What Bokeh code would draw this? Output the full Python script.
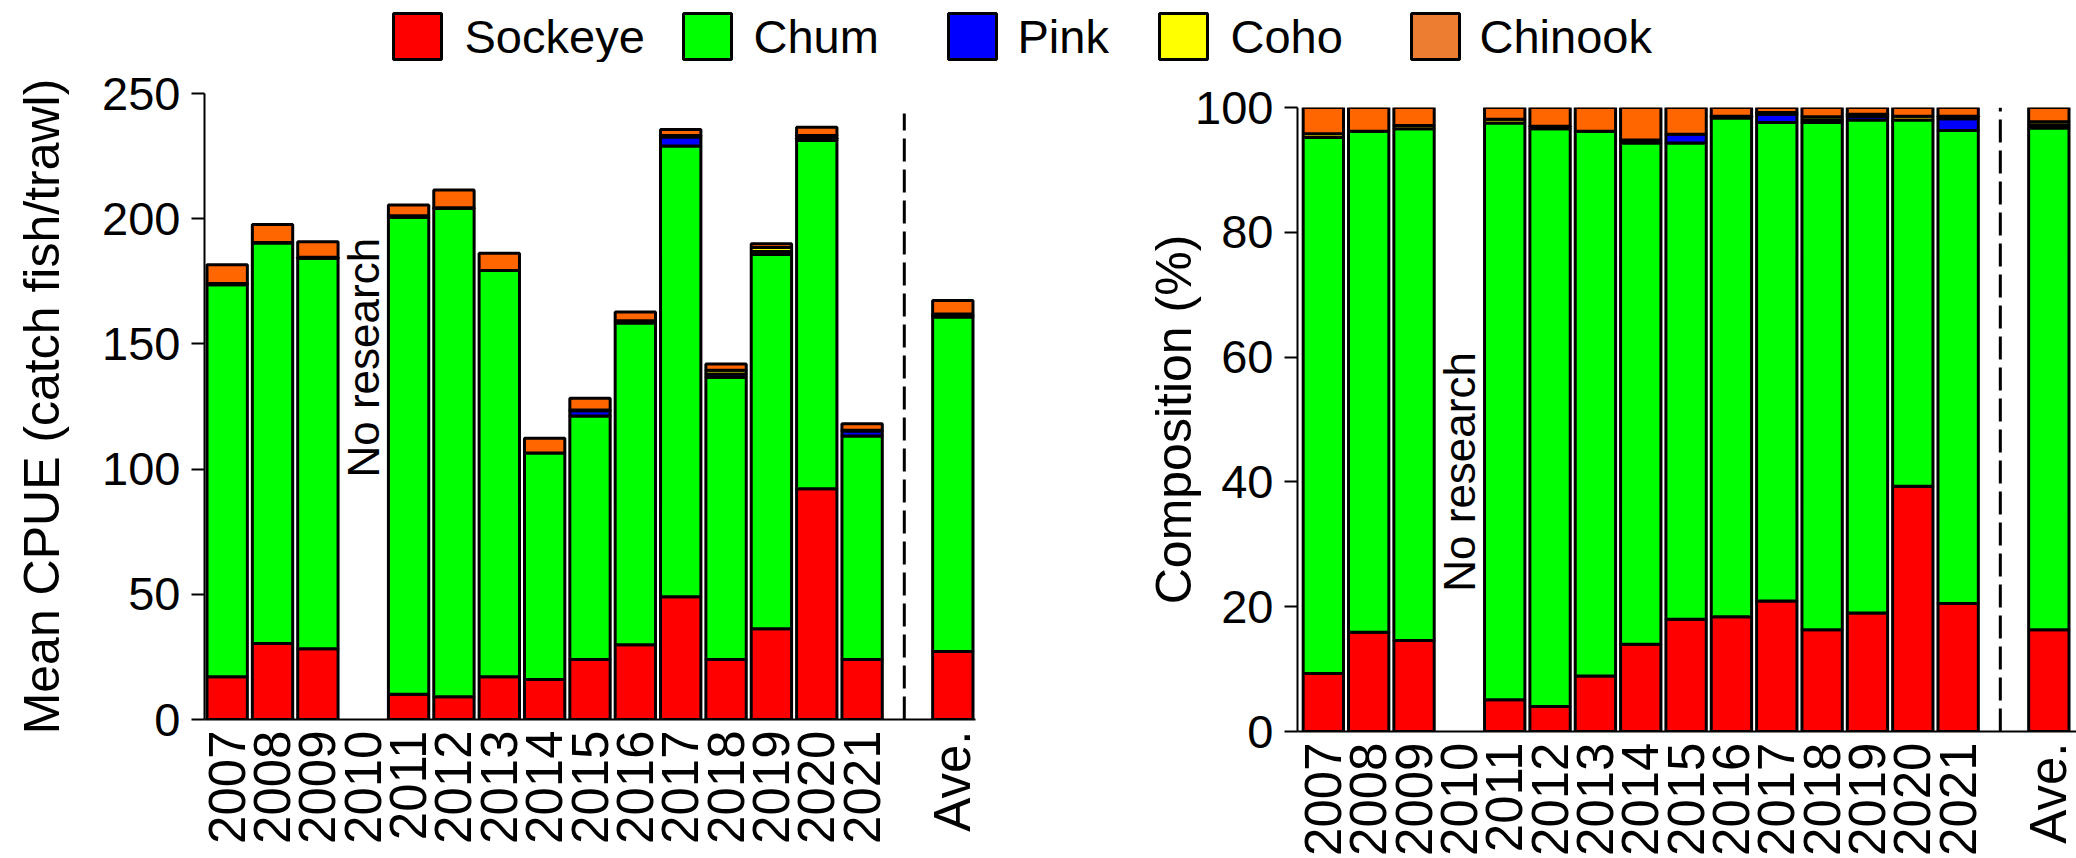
import numpy as np
from bokeh.plotting import figure
from bokeh.models import Range1d, FixedTicker
from bokeh.layouts import column, row
from bokeh.embed import file_html
from bokeh.resources import INLINE
from bokeh.core.properties import value

# ---------------- data ----------------
years = ["2007", "2008", "2009", "2010", "2011", "2012", "2013", "2014",
         "2015", "2016", "2017", "2018", "2019", "2020", "2021"]
ave_label = "Ave."
species = ["Sockeye", "Chum", "Pink", "Coho", "Chinook"]
no_research_year = "2010"

# Mean CPUE (catch fish/trawl); 15 years then the average
cpue_sockeye = [17.1, 30.4, 28.3, 0, 10.1, 9.1, 17.1, 16.0, 24.0, 29.9, 49.0, 24.0, 36.2, 92.2, 24.0, 27.2]
cpue_chum = [156.5, 159.9, 155.9, 0, 190.5, 195.1, 162.2, 90.4, 97.2, 128.4, 180.0, 112.7, 149.5, 139.0, 89.2, 133.5]
cpue_pink = [0, 0, 0, 0, 0, 0, 0, 0, 2.1, 0, 3.6, 1.3, 1.2, 0.9, 2.0, 0.6]
cpue_coho = [0.5, 0.2, 0.4, 0, 0.6, 0.2, 0, 0, 0.3, 0.9, 0.6, 1.5, 1.6, 1.1, 0.3, 0.6]
cpue_chinook = [7.5, 7.2, 6.2, 0, 4.3, 7.1, 6.9, 5.9, 4.7, 3.5, 2.4, 2.5, 1.5, 3.3, 2.6, 5.4]

# Composition (%)
comp_sockeye = [9.3, 15.9, 14.6, 0, 5.1, 4.0, 8.9, 14.0, 18.0, 18.4, 20.9, 16.3, 19.0, 39.3, 20.5, 16.3]
comp_chum = [85.9, 80.3, 82.0, 0, 92.4, 92.6, 87.3, 80.3, 76.3, 79.9, 76.7, 81.3, 79.0, 58.7, 75.8, 80.4]
comp_pink = [0, 0, 0, 0, 0, 0, 0, 0, 1.4, 0, 1.3, 0.4, 0.6, 0, 1.9, 0.5]
comp_coho = [0.6, 0, 0.5, 0, 0.6, 0.4, 0, 0.5, 0, 0.3, 0.3, 0.5, 0.3, 0.6, 0.4, 0.5]
comp_chinook = [4.2, 3.8, 2.9, 0, 1.9, 3.0, 3.8, 5.2, 4.3, 1.4, 0.8, 1.5, 1.1, 1.4, 1.4, 2.3]

cpue_ticks = [0, 50, 100, 150, 200, 250]
comp_ticks = [0, 20, 40, 60, 80, 100]

# ---------------- styles ----------------
bar_colors = ["#FF0000", "#00FF00", "#0000FF", "#FFFF00", "#FF6600"]
legend_colors = ["#FF0000", "#00FF00", "#0000FF", "#FFFF00", "#ED7D31"]
FONT = "Liberation Sans"
FS = "47px"
FS_X = "51px"
FS_LAB = "50px"
FS_NOTE = "44px"

LEG_H = 62
PANEL_H = 858 - LEG_H

labels = years + [ave_label]
xpos = list(range(len(years))) + [len(years) + 1]
sep_x = len(years) - 0.07


def make_panel(series, y_end, ylab, ticks, width, height, mbl, mbr, mbt, mbb,
               x_start, x_end, sep_top, note_y, lab_standoff):
    p = figure(width=width, height=height,
               x_range=Range1d(x_start, x_end), y_range=Range1d(0, y_end),
               output_backend="svg", toolbar_location=None,
               min_border_left=mbl, min_border_right=mbr,
               min_border_top=mbt, min_border_bottom=mbb)
    try:
        p.frame_align = False
    except Exception:
        pass
    p.outline_line_color = None
    p.xgrid.grid_line_color = None
    p.ygrid.grid_line_color = None
    p.background_fill_color = "white"
    p.border_fill_color = "white"

    bottoms = np.zeros(len(labels))
    for k, vals in enumerate(series):
        vals = np.array(vals, dtype=float)
        keep = vals > 0
        xs = [xpos[i] for i in range(len(labels)) if keep[i]]
        b = bottoms[keep]
        t = (bottoms + vals)[keep]
        p.vbar(x=xs, bottom=b, top=t, width=0.89,
               fill_color=bar_colors[k], line_color="black", line_width=3)
        bottoms = bottoms + vals

    p.segment(x0=[sep_x], y0=[0], x1=[sep_x], y1=[sep_top],
              line_color="black", line_width=3, line_dash="23 8")

    ix = years.index(no_research_year)
    p.text(x=[xpos[ix]], y=[note_y], text=["No research"], angle=np.pi / 2,
           text_align="center", text_baseline="middle",
           text_font=value(FONT), text_font_size=FS_NOTE, text_color="black")

    xa = p.xaxis[0]
    xa.ticker = FixedTicker(ticks=xpos)
    xa.major_label_overrides = {x: l for x, l in zip(xpos, labels)}
    xa.major_label_orientation = np.pi / 2
    xa.major_tick_out = 0
    xa.major_tick_in = 0
    xa.minor_tick_out = 0
    xa.minor_tick_in = 0
    xa.axis_line_width = 2
    xa.axis_line_color = "black"
    xa.major_label_standoff = 11
    xa.major_label_text_font = FONT
    xa.major_label_text_font_size = FS_X
    xa.major_label_text_color = "black"

    ya = p.yaxis[0]
    ya.ticker = FixedTicker(ticks=ticks)
    ya.major_tick_out = 13
    ya.major_tick_in = 0
    ya.minor_tick_out = 0
    ya.minor_tick_in = 0
    ya.major_tick_line_width = 2
    ya.axis_line_width = 2
    ya.axis_line_color = "black"
    ya.major_tick_line_color = "black"
    ya.major_label_standoff = 11
    ya.major_label_text_font = FONT
    ya.major_label_text_font_size = FS
    ya.major_label_text_color = "black"
    ya.axis_label = ylab
    ya.axis_label_text_font = FONT
    ya.axis_label_text_font_size = FS_LAB
    ya.axis_label_text_font_style = "normal"
    ya.axis_label_text_color = "black"
    ya.axis_label_standoff = lab_standoff
    return p


left = make_panel([cpue_sockeye, cpue_chum, cpue_pink, cpue_coho, cpue_chinook],
                  250, "Mean CPUE (catch fish/trawl)", cpue_ticks,
                  width=1100, height=PANEL_H, mbl=204, mbr=125, mbt=93 - LEG_H, mbb=139,
                  x_start=-0.5, x_end=16.5, sep_top=242, note_y=144.5, lab_standoff=29)

right = make_panel([comp_sockeye, comp_chum, comp_pink, comp_coho, comp_chinook],
                   100, "Composition (%)", comp_ticks,
                   width=976, height=PANEL_H, mbl=197, mbr=0, mbt=107 - LEG_H, mbb=126,
                   x_start=-0.57, x_end=16.61, sep_top=100, note_y=41.6, lab_standoff=-10)

# ---------------- legend strip ----------------
leg_square_x = [417, 707, 972, 1183, 1435]
leg_text_x = [464, 753, 1017, 1230, 1479]
leg = figure(width=2076, height=LEG_H, x_range=Range1d(0, 2076), y_range=Range1d(LEG_H, 0),
             output_backend="svg", toolbar_location=None,
             min_border_left=0, min_border_right=0, min_border_top=0, min_border_bottom=0)
leg.axis.visible = False
leg.grid.grid_line_color = None
leg.outline_line_color = None
leg.rect(x=leg_square_x, y=[36] * 5, width=48, height=46,
         fill_color=legend_colors, line_color="black", line_width=3)
leg.text(x=leg_text_x, y=[36] * 5, text=species, text_align="left", text_baseline="middle",
         text_font=value(FONT), text_font_size=FS, text_color="black")

layout = column(leg, row(left, right))
open("out.html", "w").write(file_html(layout, INLINE))
